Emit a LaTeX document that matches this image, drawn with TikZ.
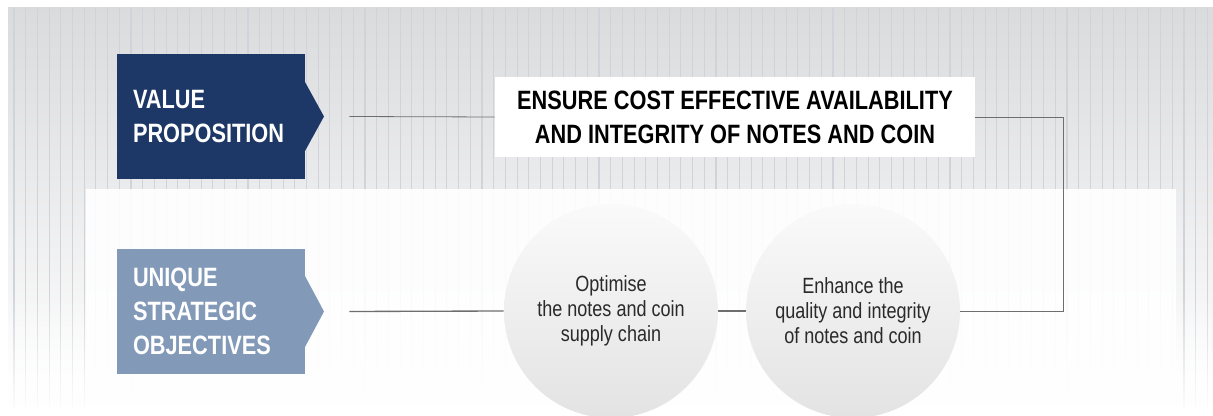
\documentclass[tikz,border=0pt]{standalone}
\usepackage{fontspec}
\setmainfont{Liberation Sans}[FakeStretch=0.82]
\usetikzlibrary{positioning, fadings}

\definecolor{navy}{HTML}{1D3766}
\definecolor{steel}{HTML}{8299B8}
\definecolor{bggray}{HTML}{DADBDD}
\definecolor{bgmid}{HTML}{E3E4E6}
\definecolor{stripe}{HTML}{D0D4DA}
\definecolor{linegray}{HTML}{6E6E6E}
\definecolor{txtgray}{HTML}{2A2A2A}

\tikzset{
  headbox/.style={minimum height=93.75pt, text width=117pt, inner xsep=12pt, inner ysep=0pt,
    text=white, align=left, font=\bfseries\fontsize{19.9}{25.5}\selectfont},
  coin/.style={circle, minimum size=160.5pt, inner sep=0pt, text=txtgray, align=center,
    top color=white!98!black, bottom color=black!11, font=\fontsize{16.5}{18.75}\selectfont},
  conn/.style={draw=linegray, line width=0.6pt},
}

\begin{document}
\begin{tikzpicture}[x=0.75pt, y=-0.75pt]
    \useasboundingbox (0,0) rectangle (1213,416);

    % background
    \shade[top color=bggray, middle color=bgmid, bottom color=white] (8,8) rectangle (1213,410);
    \foreach \x in {14,25.7,...,1213}
        \draw[stripe, line width=0.8pt] (\x,8) -- (\x,410);
    \fill[white, opacity=.9] (86,189) rectangle (1176,410);
    \fill[white, path fading=north] (0,290) rectangle (1213,416);

    % left column
    \node[headbox, fill=navy] (vp) at (211,116.5) {VALUE\\PROPOSITION};
    \fill[navy] (305,82) -- (324,116.5) -- (305,151) -- cycle;

    \node[headbox, fill=steel] (uso) at (211,311.5) {UNIQUE\\STRATEGIC\\OBJECTIVES};
    \fill[steel] (305,276) -- (324,311.5) -- (305,347) -- cycle;

    % value proposition
    \node[fill=white, minimum width=360pt, minimum height=60pt, align=center,
        font=\bfseries\fontsize{19.9}{25.5}\selectfont] (title) at (735,117)
        {ENSURE COST EFFECTIVE AVAILABILITY\\AND INTEGRITY OF NOTES AND COIN};

    % objectives
    \node[coin] (c1) at (611,311) {Optimise\\the notes and coin\\supply chain};
    \node[coin] (c2) at (853,311) {Enhance the\\quality and integrity\\of notes and coin};

    \coordinate (bend) at (1063,311);

    \draw[conn] ([xshift=33pt]vp.east) -- (title.west);
    \draw[conn, line width=1pt] ([xshift=33pt]uso.east) -- (c1.west);
    \draw[conn, line width=1pt] (c1.east) -- (c2.west);
    \draw[conn] (c2.east) -- (bend) |- (title.east);
\end{tikzpicture}
\end{document}
